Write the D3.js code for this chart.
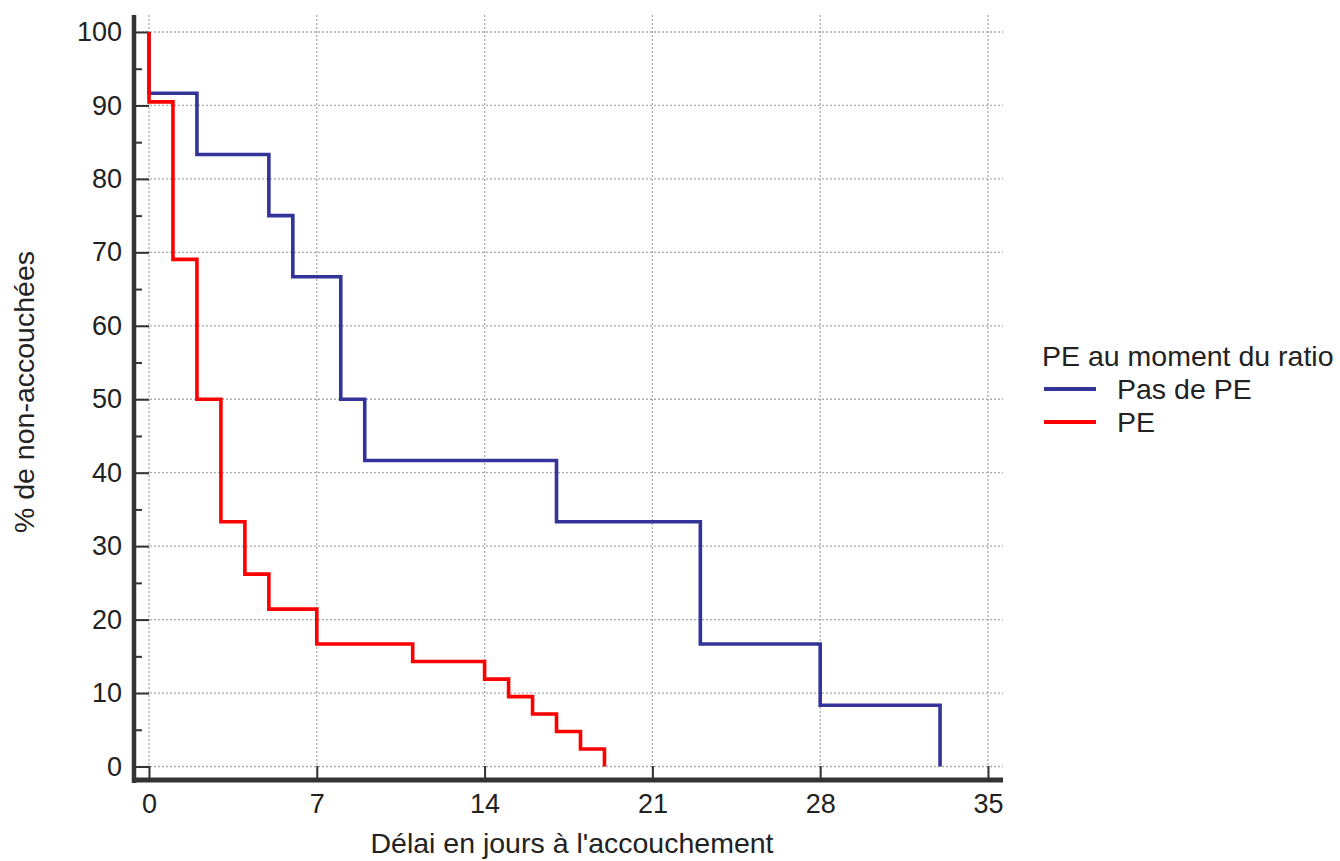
<!DOCTYPE html>
<html><head><meta charset="utf-8">
<script src="https://cdn.jsdelivr.net/npm/d3@7"></script>
<style>body{margin:0;background:#fff}svg{display:block}text{font-family:"Liberation Sans",Arial,sans-serif}</style>
</head><body>
<svg id="c" width="1340" height="861"></svg>
<script>
// Data
const seriesNames = ["Pas de PE", "PE"];
const seriesColors = ["#333399", "#ff0000"];
const timesPasDePE = [0, 0, 2, 5, 6, 8, 9, 17, 23, 28, 33];
const survPasDePE  = [100, 91.67, 83.33, 75, 66.67, 50, 41.67, 33.33, 16.67, 8.33, 0];
const timesPE = [0, 0, 1, 2, 3, 4, 5, 7, 11, 14, 15, 16, 17, 18, 19];
const survPE  = [100, 90.48, 69.05, 50, 33.33, 26.19, 21.43, 16.67, 14.29, 11.90, 9.52, 7.14, 4.76, 2.38, 0];
const xTicks = [0, 7, 14, 21, 28, 35];
const yTicks = [0, 10, 20, 30, 40, 50, 60, 70, 80, 90, 100];
const yMinorTicks = [5, 15, 25, 35, 45, 55, 65, 75, 85, 95];
const xTitle = "Délai en jours à l'accouchement";
const yTitle = "% de non-accouchées";
const legendTitle = "PE au moment du ratio";

const svg = d3.select("#c");
const x = d3.scaleLinear().domain([0, 35]).range([149, 988]);
const y = d3.scaleLinear().domain([0, 100]).range([766.5, 32]);
const axisX = 134, axisY = 780;
const plotTop = 15, plotRight = 1003;
const fs = "27px";
const fsTitle = "28.5px";

// grid
const g = svg.append("g");
g.selectAll(".vg").data(xTicks).join("line")
  .attr("x1", d => x(d)).attr("x2", d => x(d))
  .attr("y1", plotTop).attr("y2", axisY)
  .attr("stroke", "#aaa").attr("stroke-width", 1.3).attr("stroke-dasharray", "2,2");
g.selectAll(".hg").data(yTicks).join("line")
  .attr("x1", axisX).attr("x2", plotRight)
  .attr("y1", d => y(d)).attr("y2", d => y(d))
  .attr("stroke", "#aaa").attr("stroke-width", 1.3).attr("stroke-dasharray", "2,2");

// axes
const yAxis = d3.axisLeft(y).tickValues(yTicks).tickSize(-15).tickPadding(12);
const yAxisMinor = d3.axisLeft(y).tickValues(yMinorTicks).tickSize(-8).tickFormat("");
const xAxis = d3.axisBottom(x).tickValues(xTicks).tickSize(-14).tickPadding(14);

function styleAxis(sel) {
  sel.select(".domain").remove();
  sel.selectAll(".tick line").attr("stroke", "#333").attr("stroke-width", 2);
  sel.selectAll(".tick text").attr("fill", "#222").style("font-size", fs);
}
svg.append("g").attr("transform", `translate(${axisX},0)`).call(yAxis).call(styleAxis);
svg.append("g").attr("transform", `translate(${axisX},0)`).call(yAxisMinor).call(styleAxis);
svg.append("g").attr("transform", `translate(0,${axisY})`).call(xAxis).call(styleAxis);

// step lines
const line = d3.line().x(d => x(d[0])).y(d => y(d[1])).curve(d3.curveStepAfter);
const data = [
  d3.zip(timesPasDePE, survPasDePE),
  d3.zip(timesPE, survPE)
];
data.forEach((pts, i) => {
  svg.append("path").datum(pts).attr("d", line)
    .attr("fill", "none").attr("stroke", seriesColors[i])
    .attr("stroke-width", 3.6).attr("stroke-linejoin", "miter");
});

// axis lines
svg.append("line").attr("x1", axisX).attr("x2", axisX).attr("y1", plotTop).attr("y2", axisY + 3)
  .attr("stroke", "#333").attr("stroke-width", 4.5);
svg.append("line").attr("x1", axisX - 2).attr("x2", plotRight).attr("y1", axisY).attr("y2", axisY)
  .attr("stroke", "#333").attr("stroke-width", 5);

// titles
svg.append("text").attr("x", 572).attr("y", 853)
  .attr("text-anchor", "middle").attr("fill", "#222").style("font-size", fsTitle).text(xTitle);
svg.append("text").attr("transform", "translate(34,392) rotate(-90)")
  .attr("text-anchor", "middle").attr("fill", "#222").style("font-size", fsTitle).text(yTitle);

// legend
const lg = svg.append("g");
lg.append("text").attr("x", 1042).attr("y", 366).attr("fill", "#222").style("font-size", fsTitle).text(legendTitle);
seriesNames.forEach((n, i) => {
  const yy = 389 + i * 33;
  lg.append("line").attr("x1", 1044).attr("x2", 1096).attr("y1", yy).attr("y2", yy)
    .attr("stroke", seriesColors[i]).attr("stroke-width", 4);
  lg.append("text").attr("x", 1117).attr("y", yy + 10).attr("fill", "#222").style("font-size", fsTitle).text(n);
});
</script>
</body></html>
